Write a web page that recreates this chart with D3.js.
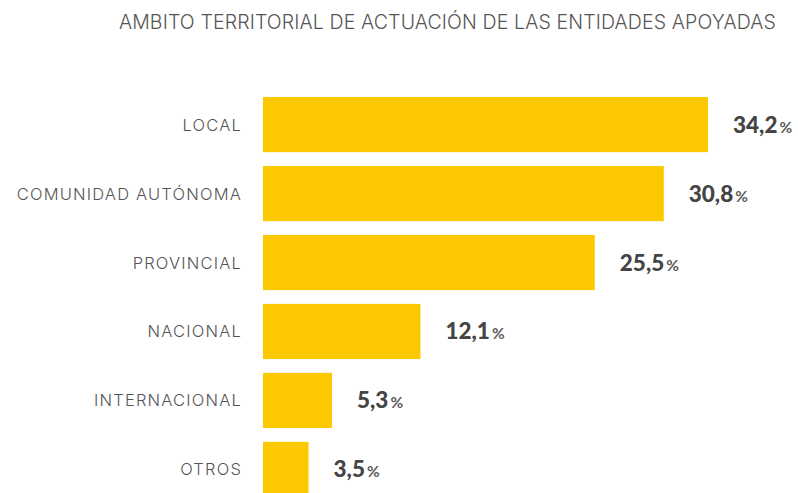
<!DOCTYPE html>
<html><head><meta charset="utf-8">
<script src="https://cdn.jsdelivr.net/npm/d3@7"></script>
<style>body{margin:0;background:#fff}svg{display:block}</style>
</head><body>
<svg id="c" width="798" height="493"></svg>
<script>
const categories = ["LOCAL","COMUNIDAD AUTÓNOMA","PROVINCIAL","NACIONAL","INTERNACIONAL","OTROS"];
const values = [34.2, 30.8, 25.5, 12.1, 5.3, 3.5];
const valueLabels = ["34,2","30,8","25,5","12,1","5,3","3,5"];
const title = "AMBITO TERRITORIAL DE ACTUACIÓN DE LAS ENTIDADES APOYADAS";

const svg = d3.select("#c");
const x = d3.scaleLinear().domain([0, 34.2]).range([263, 708]);
const y = d3.scaleBand().domain(categories).range([97, 497]).paddingInner(0.2).paddingOuter(0);

const t = svg.append("text").attr("x", 776).attr("y", 29).attr("text-anchor","end")
  .attr("font-family","Inter").attr("font-weight",300).attr("font-size",19.5)
  .attr("fill","#555").text(title);
const tw = t.node().getComputedTextLength();
t.attr("letter-spacing", (657 - tw) / (title.length - 1));

svg.append("g").selectAll("rect").data(values).join("rect")
  .attr("x", x(0)).attr("y", (d,i)=>y(categories[i]))
  .attr("width", d=>x(d)-x(0)).attr("height", y.bandwidth())
  .attr("fill","#FCC800");

const labs = svg.append("g").selectAll("text").data(categories).join("text")
  .attr("x", 242).attr("y", d=>y(d)+y.bandwidth()/2+6)
  .attr("text-anchor","end").attr("font-family","Inter").attr("font-weight",300)
  .attr("font-size",16.5).attr("fill","#555").text(d=>d);
const lw = labs.nodes()[1].getComputedTextLength();
labs.attr("letter-spacing", (224 - lw) / (categories[1].length - 1));

const vl = svg.append("g").selectAll("text").data(values).join("text")
  .attr("x", d=>x(d)+25).attr("y", (d,i)=>y(categories[i])+y.bandwidth()/2+8)
  .attr("font-family","Lato").attr("fill","#444");
vl.append("tspan").attr("font-weight",900).attr("font-size",22.5).text((d,i)=>valueLabels[i]);
vl.append("tspan").attr("dx",2).attr("font-weight",700).attr("font-size",15.5).attr("fill","#5a5a5a").text("%");
</script>
</body></html>
